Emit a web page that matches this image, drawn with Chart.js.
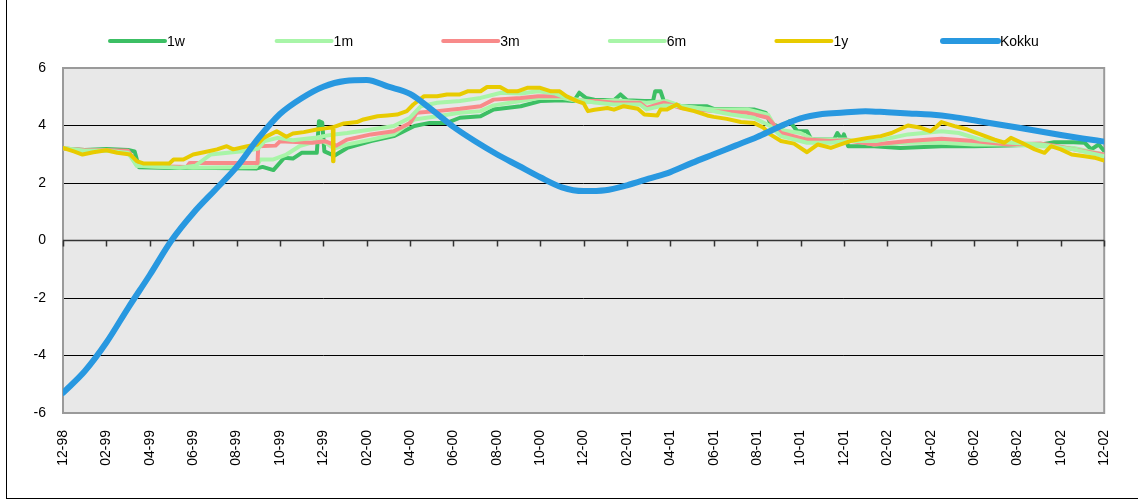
<!DOCTYPE html>
<html>
<head>
<meta charset="utf-8">
<script src="https://cdn.jsdelivr.net/npm/chart.js@4/dist/chart.umd.min.js"></script>
<style>
  body { margin: 0; background: #fff; }
  #frame { position: absolute; left: 6px; top: 0; width: 1140px; height: 498px;
           border-left: 1px solid #000; border-bottom: 1px solid #000; }
  #wrap { position: absolute; left: 0; top: 0; width: 1138px; height: 501px; }
</style>
</head>
<body>
<div id="frame"></div>
<div id="wrap"><canvas id="chart"></canvas></div>
<script>
// x = months since 12-98, y = value
const kokku = [-5.3, -4.55, -3.55, -2.35, -1.2, 0.0, 0.95, 1.75, 2.55, 3.55, 4.4, 4.95, 5.35,
  5.55, 5.58, 5.35, 5.1, 4.55, 3.95, 3.45, 3.0, 2.6, 2.2, 1.85, 1.72, 1.75, 1.92, 2.15, 2.38,
  2.7, 3.0, 3.3, 3.6, 3.95, 4.25, 4.4, 4.45, 4.5, 4.46, 4.42, 4.38, 4.3, 4.18, 4.05, 3.93,
  3.8, 3.67, 3.55, 3.44];

const w1 = [[0,3.2],[1,3.15],[2,3.18],[3,3.15],[3.3,3.1],[3.5,2.55],[5,2.52],[7,2.52],[8.9,2.5],
  [9.2,2.56],[9.7,2.45],[10.2,2.88],[10.6,2.85],[11.0,3.05],[11.7,3.05],[11.8,4.15],[11.95,4.1],
  [12.05,3.1],[12.5,2.95],[13.1,3.22],[14.2,3.46],[15.25,3.63],[16.2,3.98],[16.9,4.09],[17.7,4.09],
  [18.3,4.27],[19.25,4.32],[19.85,4.56],[21.1,4.67],[22.0,4.85],[23.0,4.88],[23.55,4.85],[23.8,5.14],
  [24.1,4.96],[24.5,4.9],[25.4,4.88],[25.7,5.08],[26.0,4.88],[26.8,4.85],[27.2,4.85],[27.3,5.19],
  [27.55,5.19],[27.7,4.85],[28.5,4.67],[29.7,4.67],[30.0,4.58],[31.85,4.56],[32.4,4.44],[32.6,4.09],
  [33.1,3.92],[33.5,4.15],[33.85,3.8],[34.3,3.8],[34.5,3.51],[35.55,3.51],[35.7,3.74],[35.9,3.51],
  [36.0,3.69],[36.2,3.28],[37.4,3.28],[38.6,3.22],[40.5,3.28],[42.0,3.28],[43.55,3.3],[45.1,3.34],
  [45.7,3.42],[46.6,3.42],[47.1,3.4],[47.4,3.17],[47.75,3.34],[48,3.11]];

const m1 = [[0,3.2],[1,3.12],[2,3.14],[3,3.1],[3.4,2.6],[6,2.53],[8.9,2.56],[9.1,2.82],[9.7,2.82],
  [10.3,2.99],[10.9,3.28],[11.9,3.5],[12.5,3.2],[13.1,3.34],[14.2,3.51],[15.25,3.69],[16.2,4.21],
  [17.25,4.32],[18.3,4.44],[19.25,4.5],[19.85,4.7],[21.1,4.85],[22.0,4.96],[23.0,4.96],[23.55,4.88],
  [24.1,4.81],[25.4,4.88],[26.9,4.79],[27.85,4.85],[28.5,4.67],[30.0,4.56],[31.55,4.56],[32.5,4.38],
  [32.9,3.86],[34.0,3.74],[34.6,3.51],[36.1,3.51],[37.4,3.34],[38.95,3.4],[40.5,3.4],[42.0,3.34],
  [43.55,3.34],[45.1,3.28],[46.6,3.22],[48,2.99]];

const m3 = [[0,3.2],[1,3.15],[2,3.14],[3,3.12],[3.5,2.6],[5.7,2.56],[5.85,2.7],[8.97,2.7],[9.0,3.28],
  [9.8,3.3],[10.0,3.45],[11.5,3.4],[12.1,3.45],[12.6,3.3],[13.1,3.51],[14.2,3.69],[15.25,3.8],
  [16.0,4.09],[16.3,4.44],[17.25,4.5],[18.3,4.58],[19.25,4.67],[19.85,4.9],[21.1,4.96],[21.9,5.02],
  [23.0,5.02],[23.55,4.9],[24.1,4.85],[24.6,4.85],[25.4,4.79],[26.6,4.79],[26.9,4.61],[27.7,4.79],
  [28.5,4.61],[30.0,4.5],[31.55,4.44],[32.5,4.27],[33.1,3.74],[34.3,3.51],[35.4,3.46],[36.1,3.49],
  [37.4,3.34],[38.95,3.46],[40.5,3.54],[42.0,3.46],[43.55,3.34],[45.1,3.37],[45.85,3.28],[46.6,3.17],
  [48,2.99]];

const m6 = [[0,3.22],[1,3.12],[2,3.12],[3,3.05],[3.4,2.6],[5.4,2.53],[6.1,2.6],[6.8,2.99],[8.5,3.12],
  [9.0,3.2],[9.3,3.46],[9.9,3.57],[10.6,3.49],[11.6,3.57],[12.0,3.63],[12.5,3.69],[13.1,3.74],
  [14.2,3.86],[15.25,3.98],[16.0,4.27],[16.5,4.67],[17.25,4.79],[18.3,4.85],[19.25,4.96],[20.2,5.14],
  [21.1,5.11],[21.9,5.19],[22.7,5.11],[23.2,4.96],[24.1,4.85],[24.5,4.8],[25.4,4.73],[26.6,4.73],
  [26.9,4.56],[27.7,4.7],[28.5,4.67],[29.25,4.61],[30.8,4.38],[31.85,4.27],[32.6,3.98],[33.1,3.63],
  [34.3,3.4],[35.4,3.4],[36.1,3.46],[37.5,3.46],[38.95,3.69],[40.5,3.8],[41.3,3.74],[42.3,3.51],
  [43.7,3.4],[45.1,3.34],[46.6,3.17],[48,2.93]];

const y1 = [[0,3.22],[0.5,3.1],[0.9,2.99],[1.4,3.07],[2.0,3.14],[2.5,3.05],[3.1,2.99],[3.4,2.76],
  [3.7,2.68],[4.9,2.68],[5.1,2.82],[5.55,2.82],[6.0,2.99],[6.5,3.07],[7.1,3.17],[7.55,3.28],
  [7.85,3.17],[8.5,3.28],[8.95,3.34],[9.25,3.57],[9.85,3.8],[10.3,3.61],[10.6,3.72],[11.1,3.77],
  [11.7,3.86],[12.1,3.9],[12.44,3.94],[12.45,2.76],[12.47,3.94],[12.95,4.07],[13.55,4.12],
  [13.85,4.21],[14.5,4.32],[14.95,4.35],[15.4,4.38],[15.85,4.5],[16.15,4.73],[16.65,5.02],
  [17.25,5.02],[17.7,5.08],[18.3,5.08],[18.65,5.19],[19.25,5.19],[19.55,5.34],[20.15,5.34],
  [20.5,5.19],[20.95,5.19],[21.4,5.31],[22.0,5.31],[22.5,5.19],[22.9,5.19],[23.2,5.02],[23.7,4.85],
  [24.0,4.77],[24.2,4.5],[24.5,4.55],[25.1,4.61],[25.4,4.55],[25.85,4.67],[26.5,4.58],[26.8,4.38],
  [27.4,4.35],[27.55,4.56],[27.85,4.56],[28.3,4.73],[28.5,4.61],[29.1,4.5],[29.7,4.35],[30.0,4.3],
  [30.6,4.23],[31.25,4.12],[31.85,4.09],[32.3,3.92],[32.6,3.69],[33.1,3.46],[33.7,3.37],[34.3,3.07],
  [34.8,3.34],[35.4,3.22],[35.85,3.34],[36.3,3.46],[37.1,3.57],[37.7,3.63],[38.2,3.74],[38.95,4.0],
  [39.55,3.92],[40.0,3.8],[40.3,3.98],[40.5,4.12],[41.1,3.98],[41.7,3.86],[42.2,3.72],[42.95,3.51],
  [43.4,3.4],[43.7,3.57],[44.2,3.4],[44.8,3.17],[45.25,3.05],[45.55,3.28],[46.0,3.17],[46.5,2.99],
  [47.1,2.93],[47.55,2.88],[48,2.78]];

const seriesNames = ["1w", "1m", "3m", "6m", "1y", "Kokku"];
const yTicks = [-6, -4, -2, 0, 2, 4, 6];

const FONT = { family: "'Liberation Sans', Arial, sans-serif", size: 14 };

function monthLabel(v) {
  const m = (11 + v) % 12 + 1;
  const yr = (1998 + Math.floor((11 + v) / 12)) % 100;
  return String(m).padStart(2, "0") + "-" + String(yr).padStart(2, "0");
}

const plotDecor = {
  id: "plotDecor",
  beforeDraw(chart) {
    const { ctx, chartArea: a } = chart;
    ctx.save();
    ctx.fillStyle = "#e8e8e8";
    ctx.fillRect(a.left, a.top, a.right - a.left, a.bottom - a.top);
    ctx.restore();
  },
  beforeDatasetsDraw(chart) {
    const { ctx, chartArea: a, scales } = chart;
    const y0 = scales.y.getPixelForValue(0);
    ctx.save();
    ctx.strokeStyle = "#9a9a9a";
    ctx.lineWidth = 2;
    ctx.strokeRect(a.left, a.top, a.right - a.left, a.bottom - a.top);
    ctx.strokeStyle = "#333";
    ctx.lineWidth = 1.5;
    ctx.beginPath();
    ctx.moveTo(a.left, y0);
    ctx.lineTo(a.right, y0);
    scales.x.ticks.forEach(t => {
      const x = Math.round(scales.x.getPixelForValue(t.value)) + 0.5;
      ctx.moveTo(x, y0);
      ctx.lineTo(x, y0 + 6);
    });
    ctx.stroke();
    ctx.restore();
  }
};

// legend slots are evenly spaced like the original
const legendSlots = { x0: 110, step: 166.6, y: 41, len: 55 };
const legendPlugin = {
  id: "slotLegend",
  afterDraw(chart) {
    const ctx = chart.ctx;
    ctx.save();
    ctx.font = FONT.size + "px " + FONT.family;
    ctx.textBaseline = "middle";
    ctx.fillStyle = "#000";
    chart.data.datasets.forEach((ds, i) => {
      const x = legendSlots.x0 + i * legendSlots.step;
      ctx.strokeStyle = ds.borderColor;
      ctx.lineWidth = ds.borderWidth;
      ctx.lineCap = "round";
      ctx.beginPath();
      ctx.moveTo(x, legendSlots.y);
      ctx.lineTo(x + legendSlots.len, legendSlots.y);
      ctx.stroke();
      ctx.fillText(ds.label, x + legendSlots.len + 2, legendSlots.y + 1);
    });
    ctx.restore();
  }
};

const colors = ["#3cbf64", "#a8f5a8", "#f88a8a", "#a8f5a8", "#e8cb00", "#2898e0"];
const widths = [4, 4, 4, 4, 4, 6];
const orders = [5, 4, 3, 2, 1, 0];
const kokkuPts = kokku.map((v, i) => [i, v]);
const allData = [w1, m1, m3, m6, y1, kokkuPts];

new Chart(document.getElementById("chart"), {
  type: "line",
  data: {
    datasets: seriesNames.map((name, i) => ({
      label: name,
      data: allData[i],
      borderColor: colors[i],
      backgroundColor: colors[i],
      borderWidth: widths[i],
      pointRadius: 0,
      cubicInterpolationMode: name === "Kokku" ? "monotone" : "default",
      tension: 0,
      borderJoinStyle: "round",
      borderCapStyle: "round",
      order: orders[i]
    }))
  },
  plugins: [plotDecor, legendPlugin],
  options: {
    responsive: true,
    maintainAspectRatio: false,
    animation: false,
    layout: { padding: { top: 68, right: 33, bottom: 0, left: 0 } },
    plugins: { legend: { display: false }, tooltip: { enabled: false } },
    scales: {
      x: {
        type: "linear",
        min: 0,
        max: 48,
        afterBuildTicks(scale) {
          scale.ticks = [];
          for (let v = 0; v <= 48; v += 2) scale.ticks.push({ value: v });
        },
        afterFit(scale) { scale.height = 88; },
        grid: { display: false, drawTicks: false },
        border: { display: false },
        ticks: {
          autoSkip: false,
          minRotation: 90,
          maxRotation: 90,
          padding: 17,
          color: "#000",
          font: FONT,
          callback: v => monthLabel(v)
        }
      },
      y: {
        min: -6,
        max: 6,
        afterBuildTicks(scale) {
          scale.ticks = yTicks.map(v => ({ value: v }));
        },
        afterFit(scale) { scale.width = 63; },
        grid: {
          drawTicks: false,
          color: c => (Math.abs(c.tick.value) === 6 || c.tick.value === 0) ? "rgba(0,0,0,0)" : "#000",
          lineWidth: 1
        },
        border: { display: false },
        ticks: { padding: 17, color: "#000", font: FONT }
      }
    }
  }
});
</script>
</body>
</html>
